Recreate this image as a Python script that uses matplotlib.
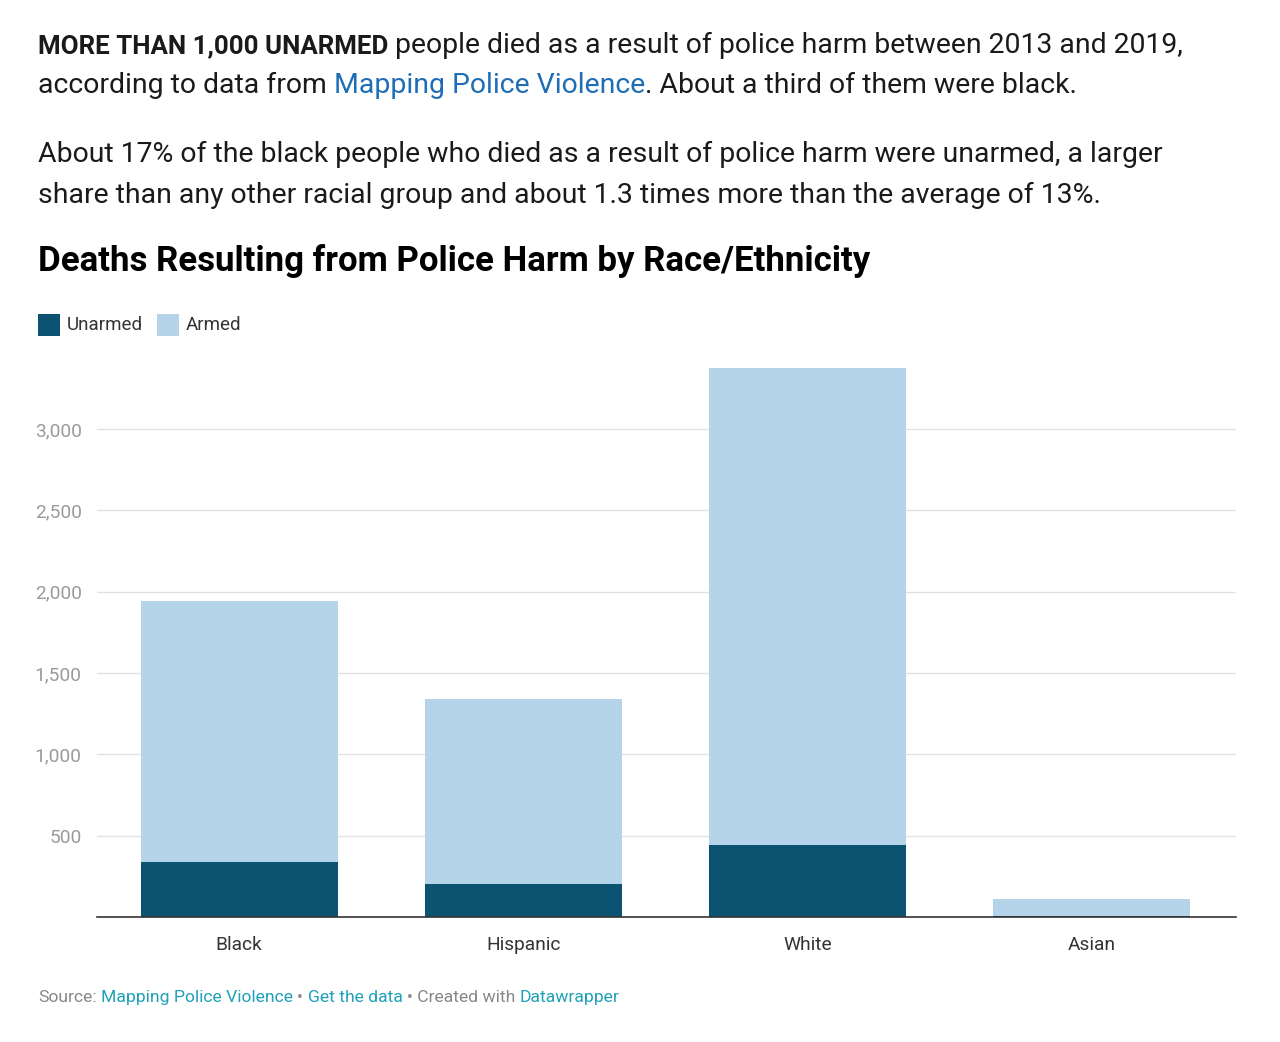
import matplotlib
matplotlib.use("Agg")
import matplotlib.pyplot as plt
from matplotlib.patches import Rectangle
from matplotlib.ticker import FuncFormatter

races = ["Black", "Hispanic", "White", "Asian"]
unarmed = [338, 203, 443, 8]
total = [1942, 1340, 3374, 111]
armed = [t - u for t, u in zip(total, unarmed)]
yticks = [500, 1000, 1500, 2000, 2500, 3000]

dark = "#0b5370"
light = "#b5d4ea"
W, H = 1280, 1042

plt.rcParams["font.family"] = ["Roboto", "DejaVu Sans"]
fig = plt.figure(figsize=(W / 100, H / 100), dpi=100)
fig.patch.set_facecolor("white")
renderer = fig.canvas.get_renderer()


def px(x, y):
    return x / W, 1 - y / H


def width_of(s, **kw):
    t = fig.text(0, 0, s, **kw)
    w = t.get_window_extent(renderer).width
    t.remove()
    return w


def rich(x, y, parts, size, gaps=None):
    # draw text pieces of different style one after another on a line
    sp = width_of("x x", fontsize=size) - width_of("xx", fontsize=size)
    for i, (s, kw) in enumerate(parts):
        kw = dict(kw)
        fs = kw.pop("fontsize", size)
        t = fig.text(*px(x, y), s, fontsize=fs, va="baseline", ha="left", **kw)
        x += t.get_window_extent(renderer).width
        if i < len(parts) - 1 and (gaps is None or gaps[i]):
            x += sp


body = 20.4
black = dict(color="#1a1a1a")
rich(38, 53, [("MORE THAN 1,000 UNARMED", dict(color="#1a1a1a", fontweight="bold", fontsize=18.6)),
              ("people died as a result of police harm between 2013 and 2019,", black)], body)
rich(38, 93, [("according to data from", black),
              ("Mapping Police Violence", dict(color="#1f6db5")),
              (". About a third of them were black.", black)], body, gaps=[True, False])
rich(38, 162, [("About 17% of the black people who died as a result of police harm were unarmed, a larger", black)], body)
rich(38, 203, [("share than any other racial group and about 1.3 times more than the average of 13%.", black)], body)

fig.text(*px(38, 261), "Deaths Resulting from Police Harm by Race/Ethnicity",
         fontsize=25.1, fontweight="bold", color="#000000", va="center", ha="left")

# legend
for x0, lab, col in [(38, "Unarmed", dark), (157, "Armed", light)]:
    fig.patches.append(Rectangle(px(x0, 336), 22 / W, 22 / H, transform=fig.transFigure,
                                 facecolor=col, edgecolor="none"))
    fig.text(*px(x0 + 29, 325), lab, fontsize=13.5, color="#333333", va="center", ha="left")

# chart
ax_l, ax_r, ax_b = 97, 1236, 917
ymax = 3450
ax_t = ax_b - ymax * (488 / 3000)
ax = fig.add_axes([ax_l / W, 1 - ax_b / H, (ax_r - ax_l) / W, (ax_b - ax_t) / H])
x = range(len(races))
ax.bar(x, unarmed, width=0.693, color=dark, zorder=3)
ax.bar(x, armed, bottom=unarmed, width=0.693, color=light, zorder=3)
ax.set_xlim(-0.5, 3.507)
ax.set_ylim(0, ymax)
ax.set_yticks(yticks)
ax.yaxis.set_major_formatter(FuncFormatter(lambda v, p: f"{int(v):,}"))
ax.grid(axis="y", color="#e2e2e2", linewidth=1, zorder=0)
for s in ["top", "right", "left"]:
    ax.spines[s].set_visible(False)
ax.spines["bottom"].set_color("#333333")
ax.spines["bottom"].set_linewidth(1.2)
ax.spines["bottom"].set_zorder(4)
ax.set_xticks(list(x))
ax.set_xticklabels(races)
ax.tick_params(axis="x", length=0, pad=14, labelsize=13.8, labelcolor="#333333")
ax.tick_params(axis="y", length=0, pad=11, labelsize=13.8, labelcolor="#9a9a9a")

# source line
rich(38, 1002, [("Source:", dict(color="#888888")),
                ("Mapping Police Violence", dict(color="#1fa0b8")),
                ("•", dict(color="#888888")),
                ("Get the data", dict(color="#1fa0b8")),
                ("• Created with", dict(color="#888888")),
                ("Datawrapper", dict(color="#1fa0b8"))], 12.6)

fig.savefig("out.png", dpi=100, facecolor="white")
